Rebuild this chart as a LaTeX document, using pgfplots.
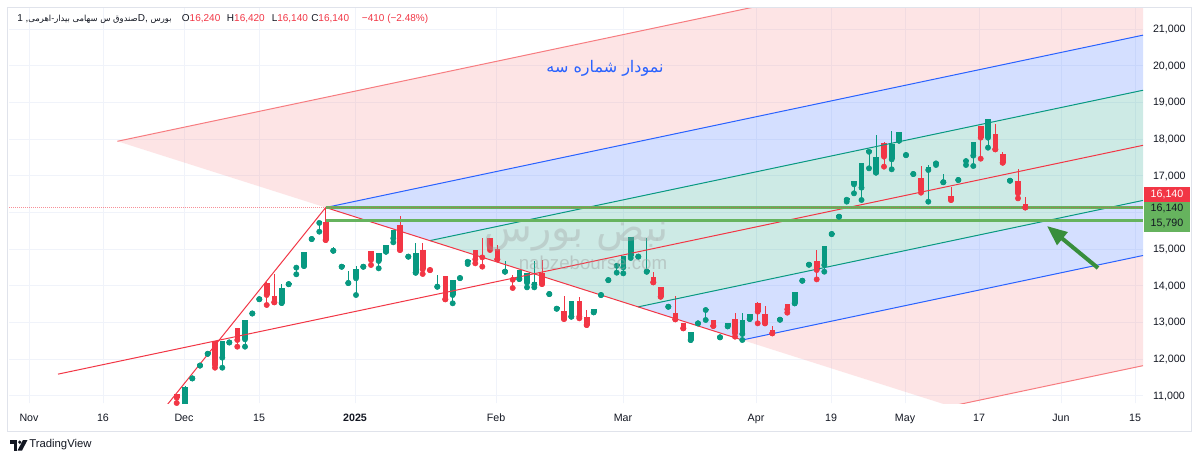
\documentclass[border=0pt]{standalone}
\usepackage{pgfplots}
\pgfplotsset{compat=1.18}
\usepackage{pgfplotstable}
\usepackage{fontspec}
\setmainfont{Liberation Sans}
\newfontfamily\arabicfont[Script=Arabic]{DejaVu Sans}
\TeXXeTstate=1
\usetikzlibrary{arrows.meta}

\definecolor{tvgreen}{HTML}{089981}
\definecolor{tvred}{HTML}{F23645}
\definecolor{tvblue}{HTML}{2962FF}
\definecolor{tvpink}{HTML}{F77C80}
\definecolor{tvtext}{HTML}{131722}
\definecolor{tvgrid}{HTML}{F0F3FA}
\definecolor{tvborder}{HTML}{E0E3EB}
\definecolor{hline}{HTML}{66B35E}
\definecolor{arrowgreen}{HTML}{388E3C}
\definecolor{wm}{HTML}{9E9E9E}

% x = bar position (chart pixel column), prices in rials
\pgfplotstableread{
x o h l c
185 10700 11260 10650 11254
192.3 11480 11520 11480 11520
200 11830 11870 11830 11870
207.7 12150 12190 12150 12190
222.3 12045 12500 11772 12500
229.3 12460 12500 12460 12500
245 12546 13081 12345 13081
252.3 13250 13290 13250 13290
259.3 13640 13680 13640 13680
281.7 13536 14054 13536 13945
288.7 14050 14090 14050 14090
296.3 14500 14540 14319 14540
304 14545 14919 14545 14919
311.7 15280 15320 15280 15320
319.3 15720 15760 15481 15760
333.3 14960 15050 14960 15000
341.7 14525 14565 14525 14565
348.3 14080 14409 14080 14120
356 14210 14545 13754 14463
363.3 14525 14565 14525 14565
378.7 14681 14891 14482 14891
386 14935 15118 14935 15118
393.3 15300 15527 15191 15527
408.3 14800 14840 14800 14840
415.7 14362 15164 14362 14908
437.3 13980 14300 13980 14020
452.7 13754 14163 13528 14163
460 14216 14256 14216 14256
467.7 14660 14700 14600 14700
505 14390 14681 14390 14430
519.3 14190 14436 14190 14436
527 14090 14363 13963 14363
534.3 14040 14690 13963 14100
549.3 13780 13820 13780 13820
556.7 13380 13420 13380 13420
571.3 13163 13591 13163 13591
593.7 13282 13373 13282 13373
601 13753 13793 13753 13793
608.3 14160 14200 14160 14200
616.7 14550 14590 14363 14590
623.3 14509 14818 14345 14818
630.7 14826 15340 14763 15327
638.3 14800 14840 14800 14840
646.7 14390 15300 14390 14430
668.3 13434 13474 13434 13474
690.7 12527 12754 12527 12754
698 12980 13020 12980 13020
705.7 13345 13385 13073 13385
720 12600 12640 12600 12640
727.7 12900 12981 12900 12981
742.3 12691 13255 12527 13073
749.7 13100 13230 13100 13230
780 13080 13120 13080 13120
794.7 13527 13827 13527 13827
802.3 14143 14183 14143 14183
809 14580 14620 14580 14620
824.3 14572 15091 14390 15091
831.7 15416 15456 15416 15456
839 15889 15929 15889 15929
846.7 16352 16392 16300 16392
854 16773 16863 16527 16863
861.5 16682 17345 16345 17345
869 17660 17700 17209 17700
876 17091 18118 17091 17527
891.7 17454 18236 17182 17872
899 17963 18209 17963 18209
906 17570 17610 17570 17610
913.3 17053 17120 17053 17093
928.3 17163 17300 16299 17236
936 17344 17384 17300 17384
943.3 16830 17045 16830 16870
958.3 16890 16930 16890 16930
966 17407 17447 17300 17447
973.3 17554 17918 17272 17918
988 18045 18545 17772 18545
1010 16870 16910 16870 16910
}\greencandles

\pgfplotstableread{
x o h l c
176.7 11046 11060 10809 10954
215 12500 12500 11772 11845
237.3 12846 12846 12345 12527
266.7 14073 14100 13482 13754
274.3 13727 14319 13555 13555
325.7 15754 16140 15254 15254
371 14954 14954 14572 14709
400 15654 15917 14981 14981
422.7 14981 15181 14327 14454
430 14474 14474 14434 14434
445.3 14272 14272 13637 13637
475.3 14981 14981 14618 14727
482.3 14820 15300 14527 14780
490 15318 15318 14981 15045
497.3 15009 15118 14727 14727
512.7 14210 14300 13945 14170
542 14345 14709 14054 14054
564 13318 13727 13100 13100
579.3 13591 13700 13118 13163
586.7 13163 13345 12936 12936
653.3 14254 14390 14100 14100
660.7 13964 13964 13708 13708
675.3 13255 13736 13091 13091
683.3 13000 13000 12846 12846
713.3 13073 13073 12909 12909
735 13091 13255 12618 12709
757.7 13527 13572 12982 13300
765 13227 13454 12982 12982
772.3 12800 12909 12709 12709
787.3 13509 13509 13272 13364
816.7 14681 14981 14181 14436
884 17909 17927 17254 17527
921 16954 17282 16545 16618
951 16463 16691 16345 16345
980.7 18363 18363 17472 18045
995.3 18136 18418 17727 17727
1002.7 17600 17663 17363 17363
1018 16863 17182 16390 16527
1025.3 16240 16420 16140 16140
}\redcandles

\begin{document}
\begin{tikzpicture}[x=0.75pt,y=-0.75pt]
\path[use as bounding box] (0,0) rectangle (1200,460);
\fill[white] (0,0) rectangle (1200,460);

\begin{axis}[
  at={(6.75pt,-6pt)}, anchor=north west,
  scale only axis, width=850.5pt, height=296.25pt,
  xmin=9, xmax=1143, ymin=10809, ymax=21581,
  axis line style={draw=none},
  tick style={draw=none},
  xtick={29,103,184,259,355,496,623,756,831,905,979,1061,1135},
  xticklabels={Nov,16,Dec,15,\textbf{2025},Feb,Mar,Apr,19,May,17,Jun,15},
  ytick={11000,12000,13000,14000,15000,17000,18000,19000,20000,21000},
  yticklabels={{11,000},{12,000},{13,000},{14,000},{15,000},{17,000},{18,000},{19,000},{20,000},{21,000}},
  yticklabel pos=right,
  grid=major, major grid style={tvgrid, line width=0.75pt},
  ticklabel style={font=\fontsize{8}{9.6}\selectfont, text=tvtext},
  xticklabel style={anchor=base, yshift=-14pt},
  yticklabel style={anchor=west, xshift=4pt},
  clip=true,
]
% grid line at 16,000 (its label is hidden behind the price labels)
\addplot[tvgrid, line width=0.75pt] coordinates {(9,16000) (1143,16000)};
% pitchfork zones
\addplot[draw=none, fill=tvpink, fill opacity=0.2] coordinates {(117.4,17946.5) (1143,23845) (1143,20840.5) (325.7,16140) (117.4,17946.5)};
\addplot[draw=none, fill=tvblue, fill opacity=0.2] coordinates {(325.7,16140) (1143,20840.5) (1143,19338) (429.85,15236.75) (325.7,16140)};
\addplot[draw=none, fill=tvgreen, fill opacity=0.2] coordinates {(429.85,15236.75) (1143,19338) (1143,16333.7) (638.15,13430.25) (429.85,15236.75)};
\addplot[draw=none, fill=tvblue, fill opacity=0.2] coordinates {(638.15,13430.25) (1143,16333.7) (1143,14831.5) (742.3,12527) (638.15,13430.25)};
\addplot[draw=none, fill=tvpink, fill opacity=0.2] coordinates {(742.3,12527) (1143,14831.5) (1143,11827) (950.6,10720.5) (742.3,12527)};

% candles: wicks then bodies
\addplot[only marks, mark=none, tvgreen, error bars/.cd, y dir=plus, y explicit, error mark=none,
  error bar style={line width=0.75pt, color=tvgreen}]
  table[x=x, y=l, y error plus expr=\thisrow{h}-\thisrow{l}] {\greencandles};
\addplot[only marks, mark=none, tvred, error bars/.cd, y dir=plus, y explicit, error mark=none,
  error bar style={line width=0.75pt, color=tvred}]
  table[x=x, y=l, y error plus expr=\thisrow{h}-\thisrow{l}] {\redcandles};
\addplot[only marks, mark=none, tvgreen, error bars/.cd, y dir=plus, y explicit, error mark=none,
  error bar style={line width=4.2pt, color=tvgreen}]
  table[x=x, y=o, y error plus expr=\thisrow{c}-\thisrow{o}] {\greencandles};
\addplot[only marks, mark=none, tvred, error bars/.cd, y dir=plus, y explicit, error mark=none,
  error bar style={line width=4.2pt, color=tvred}]
  table[x=x, y=c, y error plus expr=\thisrow{o}-\thisrow{c}] {\redcandles};

% pitchfork lines
\addplot[tvpink, line width=0.75pt] coordinates {(117.4,17946.5) (1143,23845)};
\addplot[tvpink, line width=0.75pt] coordinates {(950.6,10720.5) (1143,11827)};
\addplot[tvblue, line width=0.75pt] coordinates {(325.7,16140) (1143,20840.5)};
\addplot[tvblue, line width=0.75pt] coordinates {(742.3,12527) (1143,14831.5)};
\addplot[tvgreen, line width=0.75pt] coordinates {(429.85,15236.75) (1143,19338)};
\addplot[tvgreen, line width=0.75pt] coordinates {(638.15,13430.25) (1143,16333.7)};
\addplot[tvred, line width=0.75pt] coordinates {(58,11596) (1143,17836)};
\addplot[tvred, line width=0.75pt] coordinates {(58,7052) (325.7,16140)};
\addplot[tvred, line width=0.75pt] coordinates {(325.7,16140) (742.3,12527)};

% horizontal levels
\addplot[hline, line width=2.25pt] coordinates {(325.7,16140) (1143,16140)};
\addplot[hline, line width=2.25pt] coordinates {(325.7,15790) (1143,15790)};
\addplot[tvred, opacity=0.55, line width=0.75pt, dash pattern=on 0.75pt off 0.75pt] coordinates {(9,16140) (1143,16140)};
\end{axis}

% watermark
\node[text=wm, opacity=0.35, font=\fontsize{30}{34}\selectfont\arabicfont] at (576,237) {\beginR نبض بورس\endR};
\node[text=wm, opacity=0.45, font=\fontsize{14}{16}\selectfont] at (593,263) {nabzebourse.com};

% title
\node[text=tvblue, font=\fontsize{12}{14}\selectfont\arabicfont] at (605,68) {\beginR نمودار شماره سه\endR};

% arrow
\draw[arrowgreen, line width=3pt, -{Triangle[length=15pt,width=12pt]}] (1098,268) -- (1047,226);

% price labels
\fill[tvred] (1144,187) rectangle (1190,201.5);
\node[text=white, font=\fontsize{8}{9.6}\selectfont] at (1167,194.5) {16,140};
\fill[hline] (1144,201.5) rectangle (1190,231.5);
\node[text=tvtext, font=\fontsize{8}{9.6}\selectfont] at (1167,208.5) {16,140};
\node[text=tvtext, font=\fontsize{8}{9.6}\selectfont] at (1167,223.5) {15,790};

% frame
\draw[tvborder, line width=0.75pt] (7.5,7.5) rectangle (1191.5,431.5);

% header
\node[anchor=base west, inner sep=0, text=tvtext, font=\fontsize{7.5}{9}\selectfont] at (17,21.5)
  {1 ,{\fontsize{6.3}{8}\selectfont\arabicfont\beginR صندوق س سهامی بیدار-اهرمی\endR}D, {\fontsize{6.3}{8}\selectfont\arabicfont\beginR بورس\endR}};
\node[anchor=base west, inner sep=0, font=\fontsize{7.5}{9}\selectfont] at (181.7,21.5) {\textcolor{tvtext}{O}\textcolor{tvred}{16,240}};
\node[anchor=base west, inner sep=0, font=\fontsize{7.5}{9}\selectfont] at (226.7,21.5) {\textcolor{tvtext}{H}\textcolor{tvred}{16,420}};
\node[anchor=base west, inner sep=0, font=\fontsize{7.5}{9}\selectfont] at (271.5,21.5) {\textcolor{tvtext}{L}\textcolor{tvred}{16,140}};
\node[anchor=base west, inner sep=0, font=\fontsize{7.5}{9}\selectfont] at (311,21.5) {\textcolor{tvtext}{C}\textcolor{tvred}{16,140}};
\node[anchor=base west, inner sep=0, text=tvred, font=\fontsize{7.5}{9}\selectfont] at (361.7,21.5) {−410 (−2.48\%)};

% logo
\fill[tvtext] (10,440) rectangle (17,443.5);
\fill[tvtext] (13.5,440) rectangle (17,450.5);
\fill[tvtext] (19.8,442.2) circle (1.8);
\fill[tvtext] (23,440) -- (27.5,440) -- (22,450.5) -- (17.5,450.5) -- cycle;
\node[anchor=west, inner sep=0, text=tvtext, font=\fontsize{8.5}{10}\selectfont] at (29,445) {TradingView};
\end{tikzpicture}
\end{document}
